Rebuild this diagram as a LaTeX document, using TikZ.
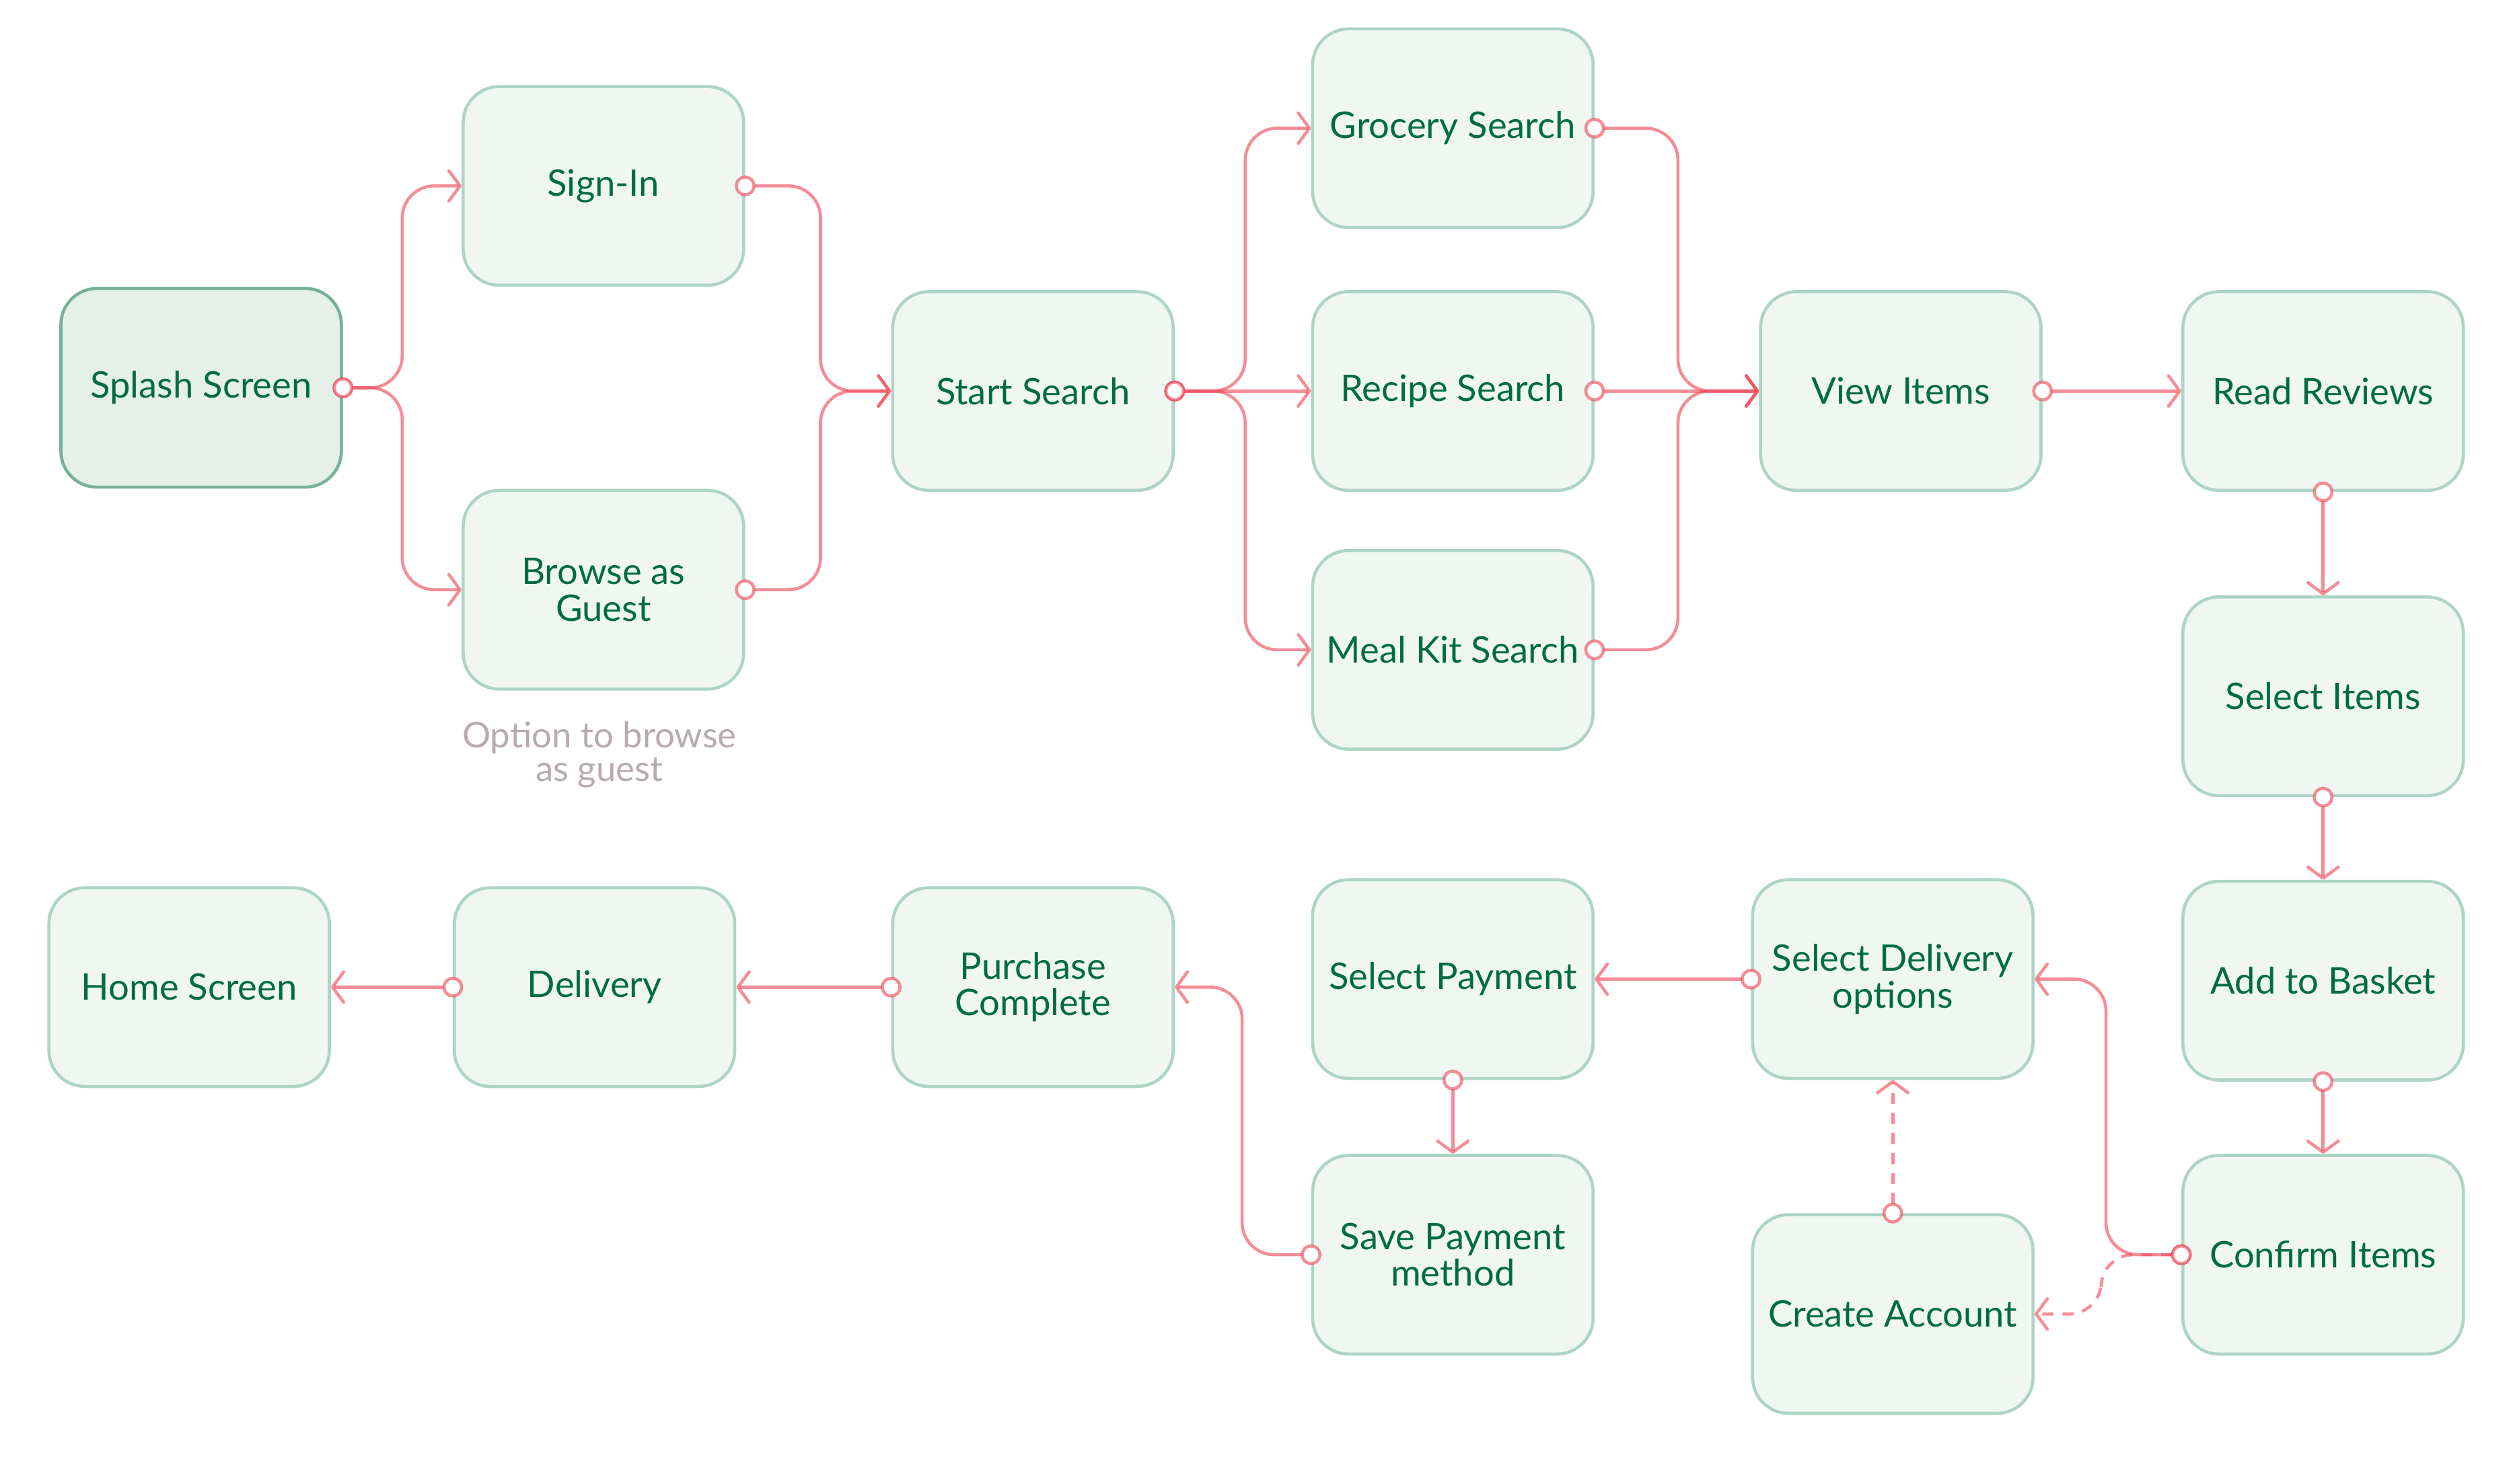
\documentclass[tikz,border=0pt]{standalone}
\usepackage{fontspec}
\setmainfont{Lato}
\usetikzlibrary{arrows.meta}
\definecolor{boxfill}{RGB}{240,247,243}
\definecolor{boxline}{RGB}{173,212,196}
\definecolor{startfill}{RGB}{228,240,233}
\definecolor{startline}{RGB}{118,178,151}
\definecolor{textgreen}{RGB}{0,108,66}
\definecolor{linkred}{RGB}{238,80,96}
\definecolor{notegray}{RGB}{183,171,174}

\begin{document}
\begin{tikzpicture}[
    screen/.style={draw=boxline, fill=boxfill, line width=1.1pt, rounded corners=0.45cm,
      minimum width=3.5cm, minimum height=2.48cm, inner sep=2pt, align=center,
      text=textgreen, font=\fontsize{13}{13}\selectfont},
    first/.style={screen, draw=startline, fill=startfill},
    link/.style={draw=linkred, draw opacity=0.65, line width=1.1pt, rounded corners=0.4cm,
      {Circle[open, fill=white, length=2.6mm, width=2.6mm]}-{Straight Barb[round, length=1.4mm, width=3.8mm]},
      shorten <=-1.3mm},
    maybe/.style={link, dash pattern=on 1.4mm off 1.1mm},
    note/.style={text=notegray, align=center, font=\fontsize{12.6}{12}\selectfont}
  ]
    \useasboundingbox (0,0) rectangle (31.36,-18.52);

    % entry and login
    \node[first] (splash) at (2.51,-4.84) {Splash Screen};
    \node[screen] (signin) at (7.53,-2.32) {Sign-In};
    \node[screen] (guest) at (7.53,-7.36) {Browse as\\Guest};
    \node[note] (guestnote) at (7.48,-9.42) {Option to browse\\as guest};

    % searching
    \node[screen] (start) at (12.89,-4.88) {Start Search};
    \node[screen] (grocery) at (18.13,-1.60) {Grocery Search};
    \node[screen] (recipe) at (18.13,-4.88) {Recipe Search};
    \node[screen] (mealkit) at (18.13,-8.11) {Meal Kit Search};

    % items
    \node[screen] (view) at (23.72,-4.88) {View Items};
    \node[screen] (reviews) at (28.99,-4.88) {Read Reviews};
    \node[screen] (select) at (28.99,-8.69) {Select Items};
    \node[screen] (basket) at (28.99,-12.24) {Add to Basket};
    \node[screen] (confirm) at (28.99,-15.66) {Confirm Items};

    % checkout
    \node[screen] (delivopt) at (23.62,-12.22) {Select Delivery\\options};
    \node[screen] (account) at (23.62,-16.40) {Create Account};
    \node[screen] (payment) at (18.13,-12.22) {Select Payment};
    \node[screen] (savepay) at (18.13,-15.66) {Save Payment\\method};
    \node[screen] (purchase) at (12.89,-12.32) {Purchase\\Complete};
    \node[screen] (delivery) at (7.42,-12.32) {Delivery};
    \node[screen] (home) at (2.36,-12.32) {Home Screen};

    % splash to sign-in or guest
    \draw[link] (splash.east) -- ++(0.74,0) |- (signin.west);
    \draw[link] (splash.east) -- ++(0.74,0) |- (guest.west);

    % both ways into search
    \draw[link] (signin.east) -- ++(0.94,0) |- (start.west);
    \draw[link] (guest.east) -- ++(0.94,0) |- (start.west);

    % pick a kind of search
    \draw[link] (start.east) -- ++(0.88,0) |- (grocery.west);
    \draw[link] (start.east) -- (recipe.west);
    \draw[link] (start.east) -- ++(0.88,0) |- (mealkit.west);

    % every search shows items
    \draw[link] (grocery.east) -- ++(1.04,0) |- (view.west);
    \draw[link] (recipe.east) -- (view.west);
    \draw[link] (mealkit.east) -- ++(1.04,0) |- (view.west);

    % down the right column
    \draw[link] (view.east) -- (reviews.west);
    \draw[link] (reviews.south) -- (select.north);
    \draw[link] (select.south) -- (basket.north);
    \draw[link] (basket.south) -- (confirm.north);

    % confirm, maybe with a new account
    \draw[link] (confirm.west) -- ++(-0.94,0) |- (delivopt.east);
    \draw[maybe] (confirm.west) -- ++(-1.0,0) |- (account.east);
    \draw[maybe] (account.north) -- (delivopt.south);

    % payment and the way home
    \draw[link] (delivopt.west) -- (payment.east);
    \draw[link] (payment.south) -- (savepay.north);
    \draw[link] (savepay.west) -- ++(-0.86,0) |- (purchase.east);
    \draw[link] (purchase.west) -- (delivery.east);
    \draw[link] (delivery.west) -- (home.east);

  \end{tikzpicture}
\end{document}
